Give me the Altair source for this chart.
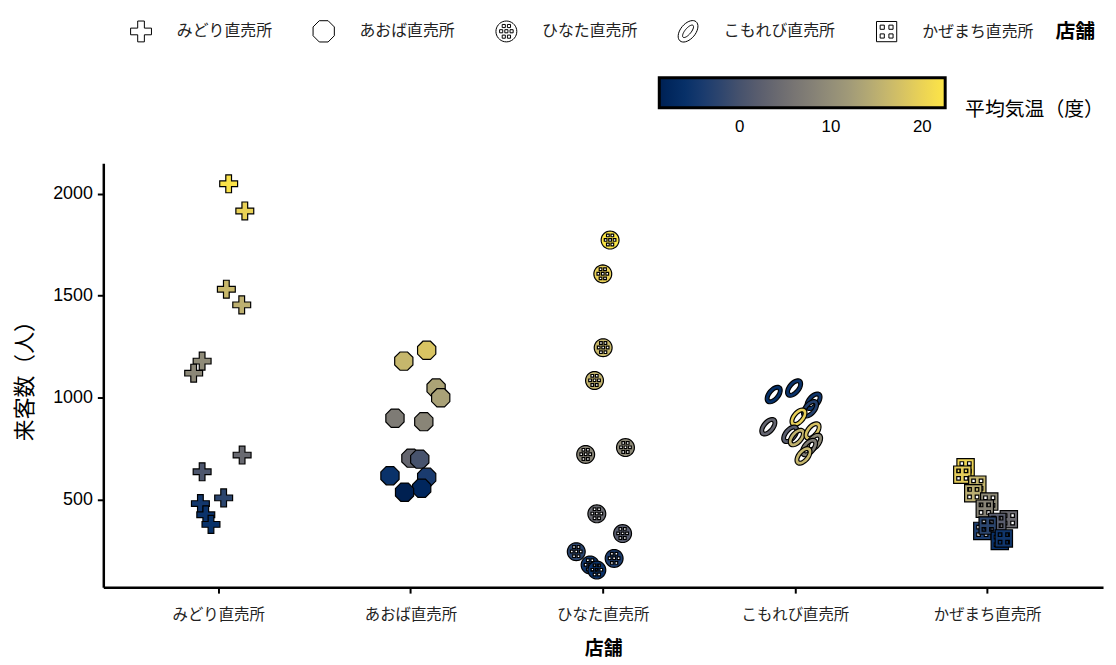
import math
import altair as alt
import pandas as pd

# ---------------- data ----------------
stores = ["みどり直売所", "あおば直売所", "ひなた直売所", "こもれび直売所", "かぜまち直売所"]

midori_visitors = [2049, 1916, 1532, 1455, 1179, 1120, 718, 636, 508, 480, 425, 378]
midori_temp = [22.0, 19.8, 16.4, 15.2, 9.5, 8.9, 3.9, 0.7, -2.4, -4.6, -5.6, -5.9]
midori_jitter = [0.052, 0.136, 0.040, 0.120, -0.086, -0.130, 0.122, -0.086, 0.026, -0.095, -0.067, -0.040]

aoba_visitors = [1232, 1179, 1047, 999, 899, 882, 703, 698, 609, 617, 555, 536]
aoba_temp = [18.0, 16.2, 13.3, 13.0, 7.0, 8.6, 3.5, 0.1, -4.0, -5.6, -7.8, -8.8]
aoba_jitter = [0.082, -0.037, 0.131, 0.155, -0.083, 0.067, 0.000, 0.046, 0.082, -0.109, 0.056, -0.033]

hinata_visitors = [1773, 1607, 1245, 1084, 755, 721, 430, 333, 244, 211, 179, 154]
hinata_temp = [22.5, 19.6, 16.4, 15.8, 9.2, 8.6, 3.9, 2.0, -2.4, -3.7, -4.9, -5.6]
hinata_jitter = [0.036, -0.002, 0.000, -0.045, 0.116, -0.091, -0.033, 0.101, -0.140, 0.057, -0.068, -0.033]

komorebi_visitors = [1015, 1047, 982, 945, 904, 857, 820, 804, 836, 780, 755, 714]
komorebi_temp = [-6.2, -5.6, -4.9, -3.0, 19.6, 3.2, 2.0, 15.5, 17.7, 9.5, 7.3, 16.1]
komorebi_jitter = [-0.113, -0.007, 0.094, 0.076, 0.016, -0.141, -0.027, 0.007, 0.089, 0.097, 0.071, 0.042]

kazemachi_visitors = [658, 622, 573, 531, 490, 455, 403, 390, 346, 372, 297, 309]
kazemachi_temp = [20.2, 19.2, 16.1, 14.9, 9.5, 8.3, 4.2, 2.0, -3.7, -2.4, -5.6, -4.9]
kazemachi_jitter = [-0.115, -0.132, -0.054, -0.075, 0.008, -0.015, 0.110, 0.050, -0.028, 0.000, 0.063, 0.084]

temp_ticks = [0, 10, 20]
temp_domain = [-8.8, 22.5]
y_ticks = [500, 1000, 1500, 2000]

groups = [
    (stores[0], midori_visitors, midori_temp, midori_jitter),
    (stores[1], aoba_visitors, aoba_temp, aoba_jitter),
    (stores[2], hinata_visitors, hinata_temp, hinata_jitter),
    (stores[3], komorebi_visitors, komorebi_temp, komorebi_jitter),
    (stores[4], kazemachi_visitors, kazemachi_temp, kazemachi_jitter),
]
rows = []
for name, vis, tmp, jit in groups:
    for v, t, j in zip(vis, tmp, jit):
        rows.append({"店舗": name, "来客数": v, "平均気温": t, "jitter": j})
df = pd.DataFrame(rows)

# ---------------- symbol paths (unit space) ----------------
def poly(pts):
    return "M" + " L".join(f"{x:.3f} {y:.3f}" for x, y in pts) + " Z"

def square(cx, cy, h, reverse=False):
    pts = [(cx - h, cy - h), (cx + h, cy - h), (cx + h, cy + h), (cx - h, cy + h)]
    if reverse:
        pts = pts[::-1]
    return poly(pts)

def ellipse(a, b, rot, n=36, reverse=False, s=1.0):
    pts = []
    for k in range(n):
        t = 2 * math.pi * k / n
        x, y = a * math.cos(t), b * math.sin(t)
        xr = x * math.cos(rot) - y * math.sin(rot)
        yr = x * math.sin(rot) + y * math.cos(rot)
        pts.append((xr * s, yr * s))
    if reverse:
        pts = pts[::-1]
    return poly(pts)

a = 0.32
cross = poly([(-a, -1), (a, -1), (a, -a), (1, -a), (1, a), (a, a), (a, 1), (-a, 1),
              (-a, a), (-1, a), (-1, -a), (-a, -a)])
o = 0.414 * 1.02
octagon = poly([(-o, -1.02), (o, -1.02), (1.02, -o), (1.02, o), (o, 1.02), (-o, 1.02),
                (-1.02, o), (-1.02, -o)])
dot_pos = [(-0.25, -0.52), (0.25, -0.52), (-0.5, -0.02), (0.0, -0.02), (0.5, -0.02),
           (-0.25, 0.5), (0.25, 0.5)]
dotted = ellipse(1, 1, 0) + " " + " ".join(square(x, y, 0.15, reverse=True) for x, y in dot_pos)
rot = -50 * math.pi / 180
ring = ellipse(1, 0.6, rot, s=1.2) + " " + ellipse(0.62, 0.24, rot, reverse=True, s=1.2)
q = 0.97
windows = poly([(-q, -q), (q, -q), (q, q), (-q, q)]) + " " + " ".join(
    square(x, y, 0.2, reverse=True) for x, y in [(-0.42, -0.42), (0.42, -0.42), (-0.42, 0.42), (0.42, 0.42)])
shape_range = [cross, octagon, dotted, ring, windows]

JP = "Noto Sans CJK JP"
LAT = "Liberation Sans"

chart = alt.Chart(df).mark_point(
    filled=True, stroke="black", strokeWidth=1.2, opacity=1, size=324
).encode(
    x=alt.X("店舗:N", sort=stores,
            scale=alt.Scale(type="band", domain=stores, paddingInner=0, paddingOuter=0.1),
            axis=alt.Axis(title="店舗", labelAngle=0, labelFont=JP, labelFontSize=15.5,
                          labelColor="#222222", labelPadding=15, titleFont=JP, titleFontSize=19,
                          titleFontWeight="bold", titlePadding=16)),
    xOffset=alt.XOffset("jitter:Q", scale=alt.Scale(domain=[-0.5, 0.5], zero=False, nice=False)),
    y=alt.Y("来客数:Q", scale=alt.Scale(domain=[70, 2150], zero=False, nice=False),
            axis=alt.Axis(title="来客数（人）", values=y_ticks, format="d", labelFont=LAT,
                          labelFontSize=18, labelPadding=5, titleFont=JP, titleFontSize=22,
                          titleFontWeight="normal", titlePadding=16)),
    fill=alt.Fill("平均気温:Q",
                  scale=alt.Scale(scheme="cividis", domain=temp_domain, nice=False, zero=False),
                  legend=alt.Legend(title="平均気温（度）", orient="none", legendX=560, legendY=-86,
                                    direction="horizontal", gradientLength=288,
                                    gradientThickness=30, gradientStrokeColor="black",
                                    gradientStrokeWidth=3, values=temp_ticks, labelFont=LAT,
                                    labelFontSize=17, labelColor="black", labelOffset=12,
                                    labelOverlap=False, titleOrient="right",
                                    titleFont=JP, titleFontSize=20, titleFontWeight="normal",
                                    titleColor="black", titlePadding=18, titleAnchor="middle",
                                    titleBaseline="line-top", titleLineHeight=32)),
    shape=alt.Shape("店舗:N", sort=stores,
                    scale=alt.Scale(domain=stores, range=shape_range),
                    legend=alt.Legend(title="店舗", orient="none", legendX=27, legendY=-144,
                                      direction="horizontal", columns=5, symbolSize=441,
                                      symbolFillColor="white", symbolStrokeColor="black",
                                      symbolStrokeWidth=1, labelFont=JP, labelFontSize=16,
                                      labelColor="#222222", labelOffset=25, columnPadding=38,
                                      titleOrient="right", titleFont=JP, titleFontSize=20,
                                      titleFontWeight="bold", titleColor="black", titlePadding=22,
                                      titleAnchor="middle", titleBaseline="middle")),
).properties(
    width=1007, height=427,
    autosize=alt.AutoSizeParams(type="none"),
    padding={"left": 96, "top": 154, "right": 5, "bottom": 70},
).configure(
    background="white"
).configure_view(stroke=None).configure_axis(
    grid=False, domainColor="black", domainWidth=2.5, tickColor="black", tickWidth=2,
    tickSize=6, labelColor="black", titleColor="black"
)

chart.save("out.html", embed_options={"renderer": "svg", "actions": False})
